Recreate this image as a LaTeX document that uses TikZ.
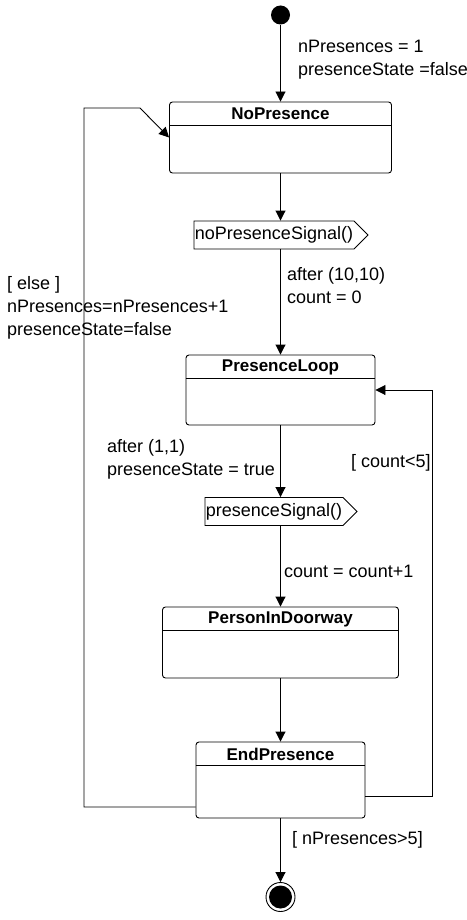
\documentclass[tikz,border=0pt]{standalone}
\usepackage{fontspec}
\setmainfont{Liberation Sans}
\usetikzlibrary{arrows.meta,shapes.symbols}
\newcommand*{\hdr}{24}
\newcommand*{\lw }{0.9pt}
\newcommand*{\mx }{280.5}
\tikzset{
	state/.style={
		rectangle,
		rounded corners=3pt,
		draw=black,
		line width=\lw,
		},
	signalbox/.style={
		signal,
		signal to=east,
		signal pointer angle=90,
		draw=black,
		line width=\lw,
		minimum height=28pt,
		inner xsep=1pt,
		inner ysep=0pt,
		},
	edge/.style={
		draw=black,
		line width=\lw,
		-{Triangle[length=10pt,width=10pt]},
		},
	note/.style={
		anchor=west,
		align=left,
		inner sep=0pt,
		}
	}

\begin{document}
\begin{tikzpicture}[x=1pt, y=-1pt, font=\fontsize{18}{23}\selectfont]
	\useasboundingbox (0,0) rectangle (466,920);
	% states: name/centre y/width/height/title
	\foreach \nm/\cy/\w/\h/\ttl in {%
		np/137.5/222/71/NoPresence,%
		pl/390/189/70/PresenceLoop,%
		pd/642.5/236/71/PersonInDoorway,%
		ep/780/169/76/EndPresence%
		} {
		\node (\nm) [state, minimum width=\w, minimum height=\h] at (\mx,\cy) {};
		\node [font=\fontsize{17}{23}\selectfont\bfseries] at (\mx,\cy-\h/2+\hdr/2) {\ttl};
		\draw [line width=\lw] (\nm.north west) ++(0,\hdr) -- ++(\w,0);
	};
	% pseudo states
	\node (init) [circle, fill=black, minimum size=19pt, inner sep=0pt] at (\mx,15) {};
	\node (fin) [circle, draw=black, line width=\lw, minimum size=29pt, inner sep=0pt] at (\mx,897) {};
	\node (fdot) [circle, fill=black, minimum size=23pt, inner sep=0pt] at (fin) {};
	% signals
	\node (sig1) [signalbox] at (274,235) {noPresenceSignal()};
	\node (sig2) [signalbox] at (274,511.5) {presenceSignal()};
	% transitions
	\draw [edge] (init) -- (np);
	\draw [edge] (np) -- (np |- sig1.north);
	\draw [edge] (sig1.south -| pl) -- (pl);
	\draw [edge] (pl) -- (pl |- sig2.north);
	\draw [edge] (sig2.south -| pd) -- (pd);
	\draw [edge] (pd) -- (ep);
	\draw [edge] (ep) -- (fin);
	\coordinate (rgt) at (432,390);
	\draw [edge] ([yshift=-16pt]ep.east) -| (rgt) -- (pl.east);
	\coordinate (lft) at (84,108);
	\draw [edge] ([yshift=-27pt]ep.west) -| (lft) -- ++(56,0) -- (np.west);
	% labels
	\node (l1) [note] at (298,60) {nPresences = 1\\presenceState =false};
	\node (l2) [note] at (287,286) {after (10,10)\\count = 0};
	\node (l3) [note] at (7,308) {[ else ]\\nPresences=nPresences+1\\presenceState=false};
	\node (l4) [note] at (107,459) {after (1,1)\\presenceState = true};
	\node (l5) [note] at (351,463) {[ count<5]};
	\node (l6) [note] at (284,571) {count = count+1};
	\node (l7) [note] at (292,840) {[ nPresences>5]};
\end{tikzpicture}
\end{document}
